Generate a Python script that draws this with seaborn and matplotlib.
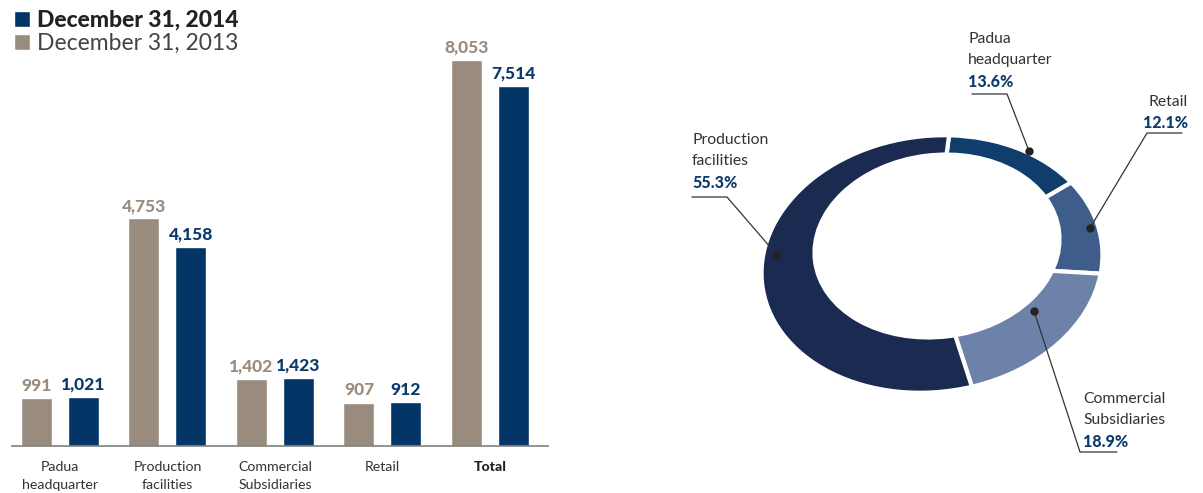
import numpy as np
import pandas as pd
import matplotlib
matplotlib.use("Agg")
import matplotlib.pyplot as plt
import seaborn as sns
from matplotlib.patches import Patch, Ellipse
from matplotlib.transforms import Affine2D

# ---------------- data ----------------
categories = ["Padua\nheadquarter", "Production\nfacilities", "Commercial\nSubsidiaries", "Retail", "Total"]
v2013 = [991, 4753, 1402, 907, 8053]
v2014 = [1021, 4158, 1423, 912, 7514]
series_names = ["December 31, 2013", "December 31, 2014"]

donut_labels = ["Padua\nheadquarter", "Retail", "Commercial\nSubsidiaries", "Production\nfacilities"]
donut_pct = [13.6, 12.1, 18.9, 55.3]

# ---------------- style ----------------
sns.set_style("white")
plt.rcParams['font.family'] = ['Lato', 'DejaVu Sans']

GRAY = "#998c7e"
NAVY = "#033566"
GRAY_TXT = "#9a8c7e"
NAVY_TXT = "#0c3a6b"
DARK = "#333333"
donut_colors = ["#0f3e6c", "#3e5d8b", "#6c82a8", "#1a2a50"]

W, H = 1203, 493
fig = plt.figure(figsize=(W / 100, H / 100), dpi=100)

# ---------------- bar chart ----------------
df = pd.DataFrame({
    "category": categories * 2,
    "series": [series_names[0]] * len(categories) + [series_names[1]] * len(categories),
    "value": v2013 + v2014,
})
ax = fig.add_axes([12 / W, 47 / H, 536 / W, 426 / H])
sns.barplot(data=df, x="category", y="value", hue="series", hue_order=series_names,
            palette=[GRAY, NAVY], width=0.874, gap=0.34, ax=ax, legend=False,
            saturation=1)
ax.set_ylim(0, 8887)
ax.set_xlim(-0.4465, 4.54)
for c, col in zip(ax.containers, [GRAY_TXT, NAVY_TXT]):
    vals = [b.get_height() for b in c]
    ax.bar_label(c, labels=[f"{int(round(v)):,}" for v in vals], padding=3,
                 color=col, fontweight="black", fontsize=12.5)
ax.set_xlabel("")
ax.set_ylabel("")
ax.set_yticks([])
ax.tick_params(axis="x", length=0, pad=11, labelsize=10.2, labelcolor=DARK)
for t in ax.get_xticklabels():
    t.set_linespacing(1.62)
    if t.get_text() == "Total":
        t.set_fontweight("black")
        t.set_color("#222222")
for s in ["top", "right", "left"]:
    ax.spines[s].set_visible(False)
ax.spines["bottom"].set_color("#808080")
ax.spines["bottom"].set_linewidth(1.2)

# legend
handles = [Patch(facecolor=NAVY), Patch(facecolor=GRAY)]
leg = fig.legend(handles, [series_names[1], series_names[0]], loc="upper left",
                 bbox_to_anchor=(-0.002, 1.012), frameon=False, fontsize=16.5,
                 handlelength=0.72, handleheight=0.72, handletextpad=0.3,
                 labelspacing=0.08, borderaxespad=0.3)
leg.get_texts()[0].set_fontweight("black")
leg.get_texts()[0].set_color("#222222")
leg.get_texts()[1].set_color("#444444")

# ---------------- donut ----------------
ax2 = fig.add_axes([0, 0, 1, 1])
ax2.patch.set_visible(False)
wedges, _ = ax2.pie(donut_pct, startangle=79, counterclock=False, colors=donut_colors,
                    wedgeprops=dict(edgecolor="white", linewidth=3))
ax2.set_aspect("auto")
ax2.set_xlim(0, W)
ax2.set_ylim(0, H)
ax2.axis("off")
cx, cy = 932, H - 264
aff = Affine2D().scale(171, 128).rotate_deg(7).translate(cx, cy)
for w in wedges:
    w.set_transform(aff + ax2.transData)
ax2.add_patch(Ellipse((937, H - 246), 250, 186, angle=7, facecolor="white",
                      edgecolor="none", zorder=5))

def Y(y):
    return H - y

# leader lines and dots (pixel positions)
leaders = [
    # (dot, elbow, end)
    ((1029, 151), (1007, 94), (972, 94)),      # Padua
    ((1090, 228), (1147, 133), (1182, 133)),   # Retail
    ((1034, 311), (1080, 452), (1117, 452)),   # Commercial
    ((777, 255), (727, 197), (692, 197)),      # Production
]
for dot, elb, end in leaders:
    ax2.plot([dot[0], elb[0], end[0]], [Y(dot[1]), Y(elb[1]), Y(end[1])],
             color="#333333", lw=0.9, zorder=6)
    ax2.plot(dot[0], Y(dot[1]), "o", color="#222222", ms=5, zorder=7)

# texts: (x, first-line centre y, ha)
text_pos = [(968, 37, "left"), (1188, 100, "right"), (1083, 397, "left"), (692, 138, "left")]
for (x, c, ha), lab, p in zip(text_pos, donut_labels, donut_pct):
    n = lab.count("\n") + 1
    ax2.text(x, Y(c - 5), lab, ha=ha, va="top", fontsize=11.3, color=DARK, linespacing=1.62, zorder=8)
    ax2.text(x, Y(c + 22 * n + 1), f"{p}%", ha=ha, va="center", fontsize=11.5,
             fontweight="black", color=NAVY_TXT, zorder=8)

fig.savefig("out.png", dpi=100)
